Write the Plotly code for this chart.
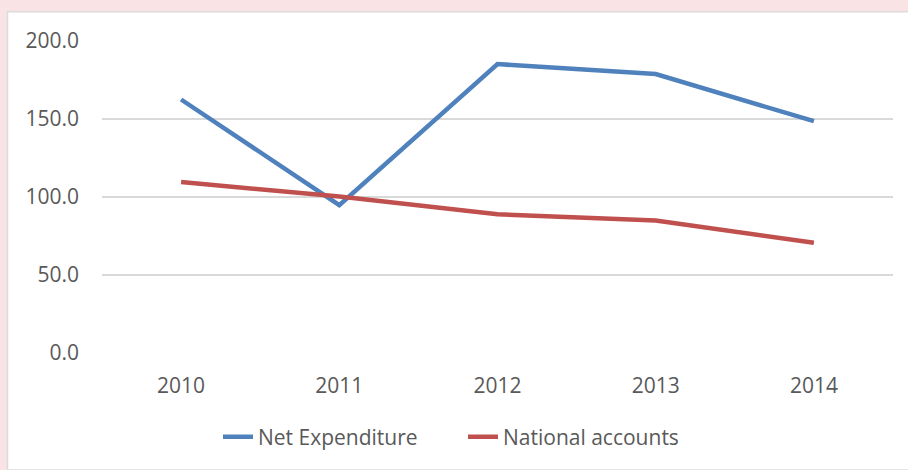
import plotly.graph_objects as go

years = ["2010", "2011", "2012", "2013", "2014"]
net_expenditure = [162.5, 94.8, 185.2, 178.8, 148.6]
national_accounts = [109.6, 100.3, 88.9, 84.9, 70.7]
y_ticks = [0, 50, 100, 150, 200]

W, H = 908, 470
L, R, T, B = 102, 15, 41, 114
pw, ph = W - L - R, H - T - B


def px_x(p):
    return (p - L) / pw


def px_y(p):
    return (H - B - p) / ph


font = dict(family="Open Sans, Noto Sans, sans-serif", size=21, color="#595959")

fig = go.Figure()
fig.add_trace(go.Scatter(x=years, y=net_expenditure, mode="lines", name="Net Expenditure",
                         line=dict(color="#4f81bd", width=4.5)))
fig.add_trace(go.Scatter(x=years, y=national_accounts, mode="lines", name="National accounts",
                         line=dict(color="#c0504d", width=4.5)))

# white chart box on pink page
fig.add_shape(type="rect", xref="paper", yref="paper", layer="below",
              x0=px_x(7.5), x1=px_x(912), y0=px_y(474), y1=px_y(11.5),
              fillcolor="white", line=dict(color="#dcdcdc", width=1.5))

fig.update_layout(
    width=W, height=H,
    margin=dict(l=L, r=R, t=T, b=B),
    paper_bgcolor="#f9e3e5", plot_bgcolor="rgba(0,0,0,0)",
    font=font,
    showlegend=True,
    legend=dict(orientation="h", x=px_x(218), xanchor="left", y=px_y(441), yanchor="middle",
                font=font, bgcolor="rgba(0,0,0,0)", entrywidth=200),
)
fig.update_xaxes(type="category", range=[-0.5, 4.5], showgrid=False, showline=False,
                 zeroline=False, ticks="", ticklabelstandoff=18, tickfont=font)
fig.update_yaxes(range=[0, 200], tickvals=y_ticks, tickformat=".1f", showgrid=True,
                 gridcolor="#d9d9d9", gridwidth=1.5, zeroline=False, showline=False,
                 ticks="", ticklabelstandoff=22, tickfont=font)

fig.write_html("out.html", config={"displayModeBar": False},
               post_script="document.body.style.margin='0';"
                           "document.body.style.overflow='hidden';"
                           "var gd=document.getElementById('{plot_id}');"
                           "gd.style.position='absolute';gd.style.left='0';gd.style.top='0';")
